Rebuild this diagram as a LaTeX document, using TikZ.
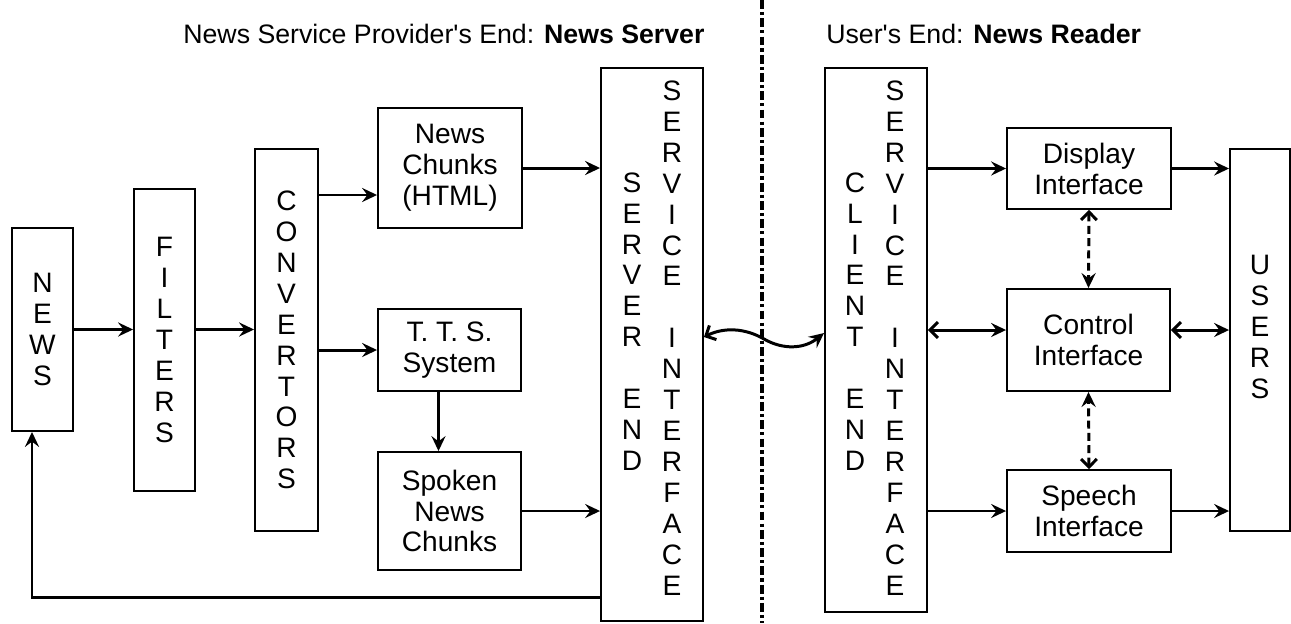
\documentclass[tikz,border=0pt]{standalone}
\usepackage{fontspec}
\setmainfont{Liberation Sans}
\usetikzlibrary{arrows.meta,calc}

\begin{document}
\begin{tikzpicture}[x=0.02cm, y=-0.02cm,
    blk/.style={draw=black, line width=1.1pt, inner sep=0pt, align=center, font=\fontsize{16}{17.6}\selectfont},
    lbl/.style={inner sep=0pt, align=center, font=\fontsize{16}{17.6}\selectfont},
    flow/.style={line width=1.7pt, -{Stealth[length=8.5pt,width=8pt,inset=3pt]}},
    thin flow/.style={line width=1pt, -{Stealth[length=8.5pt,width=8pt,inset=3pt]}},
    both flow/.style={line width=1.7pt, {Straight Barb[length=4.5pt,width=9pt]}-{Stealth[length=8.5pt,width=8pt,inset=3pt]}},
    link/.style={both flow, dash pattern=on 4.5pt off 2.5pt},
    divider/.style={line width=1.8pt, dash pattern=on 5pt off 1.8pt on 1.8pt off 1.8pt}]
    \useasboundingbox (0,0) rectangle (1291,623);

    % headings of the two halves
    \node[anchor=base west, inner sep=0pt, font=\fontsize{15.2}{18}\selectfont] (hdrsrv) at (183,43) {News Service Provider\textquotesingle s End: \textbf{News Server}};
    \node[anchor=base west, inner sep=0pt, font=\fontsize{15.2}{18}\selectfont] (hdrcli) at (826,43) {User\textquotesingle s End: \textbf{News Reader}};
    \draw[divider] (762,0) -- (762,623);

    % server side
    \node[blk, minimum width=1.22cm, minimum height=4.06cm] (news) at (42.5,329.5) {N\\E\\W\\S};
    \node[blk, minimum width=1.22cm, minimum height=6.04cm] (filt) at (164.5,340) {F\\I\\L\\T\\E\\R\\S};
    \node[blk, minimum width=1.26cm, minimum height=7.64cm] (conv) at (286.5,340) {C\\O\\N\\V\\E\\R\\T\\O\\R\\S};
    \node[blk, minimum width=2.88cm, minimum height=2.40cm] (chunks) at (450,168) {News\\Chunks\\(HTML)};
    \node[blk, minimum width=2.86cm, minimum height=1.64cm] (tts) at (449.5,350) {T. T. S.\\System};
    \node[blk, minimum width=2.86cm, minimum height=2.36cm] (spoken) at (449.5,511) {Spoken\\News\\Chunks};
    \node[blk, minimum width=2.04cm, minimum height=11.06cm] (srv) at (652,344.5) {};
    \node[lbl] (srvend) at (632,321.5) {S\\E\\R\\V\\E\\R\\~\\E\\N\\D};
    \node[lbl] (srvif) at (672,338) {S\\E\\R\\V\\I\\C\\E\\~\\I\\N\\T\\E\\R\\F\\A\\C\\E};

    % reader side
    \node[blk, minimum width=2.04cm, minimum height=10.88cm] (cli) at (876,340) {};
    \node[lbl] (cliend) at (855,321.5) {C\\L\\I\\E\\N\\T\\~\\E\\N\\D};
    \node[lbl] (cliif) at (895,338) {S\\E\\R\\V\\I\\C\\E\\~\\I\\N\\T\\E\\R\\F\\A\\C\\E};
    \node[blk, minimum width=3.28cm, minimum height=1.62cm] (disp) at (1089,168.5) {Display\\Interface};
    \node[blk, minimum width=3.26cm, minimum height=2.04cm] (ctrl) at (1088.5,340) {Control\\Interface};
    \node[blk, minimum width=3.28cm, minimum height=1.64cm] (speech) at (1089,511) {Speech\\Interface};
    \node[blk, minimum width=1.20cm, minimum height=7.64cm] (users) at (1260,340) {};
    \node[lbl] (userslbl) at (1260,327) {U\\S\\E\\R\\S};

    % helper points where arrows leave off-centre
    \coordinate (c1) at ([yshift=-0.54cm]chunks.west);
    \coordinate (fb) at ([yshift=-5.07cm]srv.west);
    \coordinate (w1) at ([yshift=0.15cm]srv.east);
    \coordinate (w2) at ([yshift=0.14cm]cli.west);
    \coordinate (k1) at ([yshift=0.2cm]ctrl.west);
    \coordinate (k2) at ([yshift=0.2cm]ctrl.east);

    \draw[flow] (news.east) -- (news.east -| filt.west);
    \draw[flow] (filt.east |- news.east) -- (conv.west |- news.east);
    \draw[flow] (conv.east |- c1) -- (c1);
    \draw[flow] (conv.east |- tts.west) -- (tts.west);
    \draw[flow] (chunks.east) -- (chunks.east -| srv.west);
    \draw[flow] ([xshift=-0.22cm]tts.south) -- ([xshift=-0.22cm]spoken.north);
    \draw[thin flow] (spoken.east) -- (spoken.east -| srv.west);
    \draw[flow] (fb) -| ([xshift=-0.21cm]news.south);

    % link between server and reader
    \draw[both flow] (w1) .. controls +(20,-10) and +(-19,-11) .. ($(w1)!0.5!(w2)+(0,4)$)
        .. controls +(19,11) and +(-20,16) .. (w2);

    \draw[flow] (cli.east |- disp.west) -- (disp.west);
    \draw[flow] (disp.east) -- (disp.east -| users.west);
    \draw[both flow] (cli.east |- k1) -- (k1);
    \draw[both flow] (k2) -- (k2 -| users.west);
    \draw[thin flow] (cli.east |- speech.west) -- (speech.west);
    \draw[thin flow] (speech.east) -- (speech.east -| users.west);
    \draw[link] (disp.south) -- (ctrl.north);
    \draw[link] (speech.north) -- (ctrl.south);
\end{tikzpicture}
\end{document}
